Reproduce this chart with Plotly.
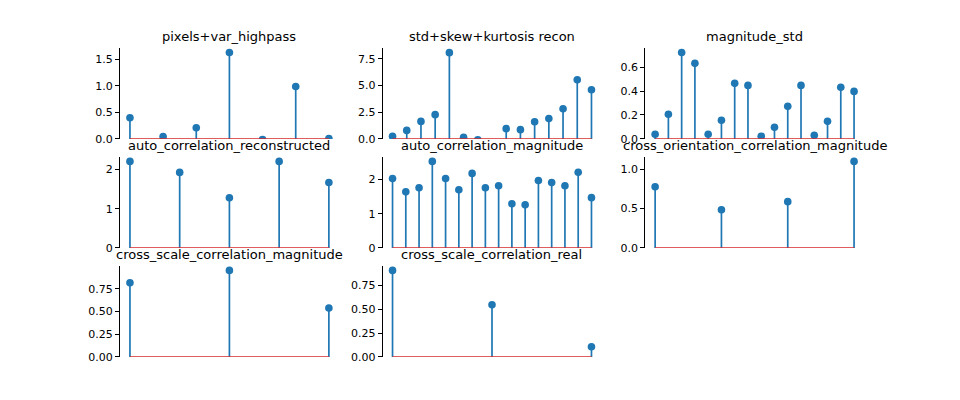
import plotly.graph_objects as go

# ---------------- data ----------------
titles = ["pixels+var_highpass", "std+skew+kurtosis recon", "magnitude_std",
          "auto_correlation_reconstructed", "auto_correlation_magnitude",
          "cross_orientation_correlation_magnitude",
          "cross_scale_correlation_magnitude", "cross_scale_correlation_real"]

pixels_var_highpass = [0.40, 0.045, 0.21, 1.633, -0.012, 0.99, 0.006]
std_skew_kurtosis_recon = [0.24, 0.80, 1.64, 2.27, 8.07, 0.15, -0.08, -0.40,
                           0.96, 0.87, 1.61, 1.90, 2.83, 5.54, 4.60]
magnitude_std = [0.039, 0.206, 0.722, 0.631, 0.039, 0.156, 0.464, 0.447,
                 0.022, 0.097, 0.272, 0.447, 0.031, 0.147, 0.431, 0.397]
auto_correlation_reconstructed = [2.21, 1.93, 1.28, 2.21, 1.67]
auto_correlation_magnitude = [2.03, 1.64, 1.76, 2.53, 2.03, 1.70, 2.18, 1.76,
                              1.82, 1.29, 1.26, 1.97, 1.91, 1.82, 2.21, 1.47]
cross_orientation_correlation_magnitude = [0.777, 0.485, 0.588, 1.099]
cross_scale_correlation_magnitude = [0.816, 0.952, 0.539]
cross_scale_correlation_real = [0.908, 0.548, 0.106]

series = [pixels_var_highpass, std_skew_kurtosis_recon, magnitude_std,
          auto_correlation_reconstructed, auto_correlation_magnitude,
          cross_orientation_correlation_magnitude,
          cross_scale_correlation_magnitude, cross_scale_correlation_real]

tick_vals = [[0.0, 0.5, 1.0, 1.5], [0.0, 2.5, 5.0, 7.5], [0.0, 0.2, 0.4, 0.6],
             [0, 1, 2], [0, 1, 2], [0.0, 0.5, 1.0],
             [0.0, 0.25, 0.5, 0.75], [0.0, 0.25, 0.5, 0.75]]
tick_text = [["0.0", "0.5", "1.0", "1.5"], ["0.0", "2.5", "5.0", "7.5"],
             ["0.0", "0.2", "0.4", "0.6"], ["0", "1", "2"], ["0", "1", "2"],
             ["0.0", "0.5", "1.0"], ["0.00", "0.25", "0.50", "0.75"],
             ["0.00", "0.25", "0.50", "0.75"]]

# ---------------- layout geometry (matplotlib-like subplot params) ----------------
# (height 408 renders as a 400px-tall paper in the capture environment)
W, H = 960, 408
left, right, bottom, top = 0.125, 0.9, 0.11, 0.88
wspace, hspace = 0.2, 0.2
ncols, nrows = 3, 3
cw = (right - left) / (ncols + (ncols - 1) * wspace)
rh = (top - bottom) / (nrows + (nrows - 1) * hspace)

STEM = "#1f77b4"
BASE = "#d62728"
FONT = "DejaVu Sans"

fig = go.Figure()
annotations = []
layout = {}

for k, vals in enumerate(series):
    r, c = divmod(k, ncols)
    x0 = left + c * cw * (1 + wspace)
    x1 = x0 + cw
    y1 = top - r * rh * (1 + hspace)
    y0 = y1 - rh
    xa = "x" if k == 0 else f"x{k+1}"
    ya = "y" if k == 0 else f"y{k+1}"
    xkey = "xaxis" if k == 0 else f"xaxis{k+1}"
    ykey = "yaxis" if k == 0 else f"yaxis{k+1}"

    n = len(vals)
    idx = list(range(n))
    sx, sy = [], []
    for i, v in zip(idx, vals):
        sx += [i, i, None]
        sy += [0, v, None]
    fig.add_trace(go.Scatter(x=sx, y=sy, mode="lines", xaxis=xa, yaxis=ya,
                             line=dict(color=STEM, width=1.7),
                             hoverinfo="skip", showlegend=False))
    fig.add_trace(go.Scatter(x=idx, y=vals, mode="markers", xaxis=xa, yaxis=ya,
                             marker=dict(color=STEM, size=7.6, line=dict(width=0)),
                             cliponaxis=True, showlegend=False))
    fig.add_trace(go.Scatter(x=[0, n - 1], y=[0, 0], mode="lines", xaxis=xa, yaxis=ya,
                             line=dict(color=BASE, width=1.5),
                             hoverinfo="skip", showlegend=False))

    span = n - 1
    ymin = min(0, min(vals))
    ymax = max(0, max(vals))
    ytop = ymax + 0.05 * (ymax - ymin)

    layout[xkey] = dict(domain=[x0, x1], anchor=ya,
                        range=[-0.05 * span, span * 1.05],
                        showline=False, showticklabels=False, ticks="",
                        showgrid=False, zeroline=False)
    layout[ykey] = dict(domain=[y0, y1], anchor=xa, range=[0, ytop],
                        showline=True, linecolor="black", linewidth=0.9,
                        ticks="outside", ticklen=4, tickwidth=0.9, tickcolor="black",
                        tickvals=tick_vals[k], ticktext=tick_text[k],
                        tickfont=dict(family=FONT, size=11, color="black"),
                        showgrid=False, zeroline=False)
    annotations.append(dict(text=titles[k], x=(x0 + x1) / 2, y=y1,
                            xref="paper", yref="paper", xanchor="center",
                            yanchor="bottom", yshift=2, showarrow=False,
                            font=dict(family=FONT, size=13, color="black")))

fig.update_layout(**layout)
fig.update_layout(width=W, height=H, margin=dict(l=0, r=0, t=0, b=0),
                  paper_bgcolor="white", plot_bgcolor="white",
                  annotations=annotations, showlegend=False,
                  font=dict(family=FONT, size=11, color="black"))

fig.write_html("out.html")
